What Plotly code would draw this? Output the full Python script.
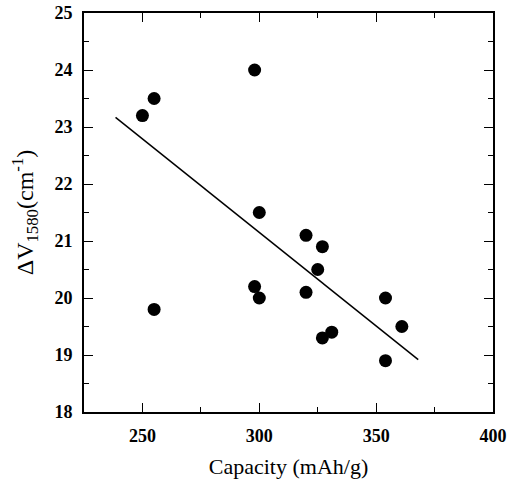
import plotly.graph_objects as go

# Data
capacity = [250, 255, 298, 255, 300, 298, 300, 320, 327, 325, 320, 327, 331, 354, 354, 361]
delta_v = [23.2, 23.5, 24.0, 19.8, 21.5, 20.2, 20.0, 21.1, 20.9, 20.5, 20.1, 19.3, 19.4, 20.0, 18.9, 19.5]

# Fitted line end points (as drawn)
fit_x = [238.5, 368.0]
fit_y = [23.17, 18.92]

x_ticks = [250, 300, 350, 400]
y_ticks = [18, 19, 20, 21, 22, 23, 24, 25]

font_family = "Liberation Serif"

fig = go.Figure()
fig.add_trace(go.Scatter(x=fit_x, y=fit_y, mode="lines",
                         line=dict(color="black", width=1.5), showlegend=False))
fig.add_trace(go.Scatter(x=capacity, y=delta_v, mode="markers",
                         marker=dict(color="black", size=13), showlegend=False))

axis_common = dict(
    showline=True, linecolor="black", linewidth=1.8, mirror="ticks",
    ticks="inside", ticklen=9, tickwidth=1.4, tickcolor="black",
    showgrid=False, zeroline=False, automargin=False,
    tickfont=dict(family=font_family, size=18, color="black", weight="bold"),
)

fig.update_xaxes(range=[225, 400], tickvals=x_ticks,
                 minor=dict(dtick=25, tick0=225, ticks="inside", ticklen=5, tickcolor="black"),
                 ticklabelstandoff=6,
                 title=dict(text="Capacity (mAh/g)", standoff=14,
                            font=dict(family=font_family, size=22, color="black")),
                 **axis_common)
fig.update_yaxes(range=[18, 25], tickvals=y_ticks,
                 minor=dict(dtick=0.5, tick0=18, ticks="inside", ticklen=5, tickcolor="black"),
                 ticklabelstandoff=6,
                 title=dict(text="ΔV<sub>1580</sub>(cm<sup>-1</sup>)", standoff=14,
                            font=dict(family=font_family, size=24, color="black")),
                 **axis_common)

fig.update_layout(width=510, height=483,
                  margin=dict(l=84, r=17, t=13, b=71),
                  paper_bgcolor="white", plot_bgcolor="white")

fig.write_html("out.html", config={"displayModeBar": False},
               post_script="document.body.style.margin='0';document.body.style.overflow='hidden';")
